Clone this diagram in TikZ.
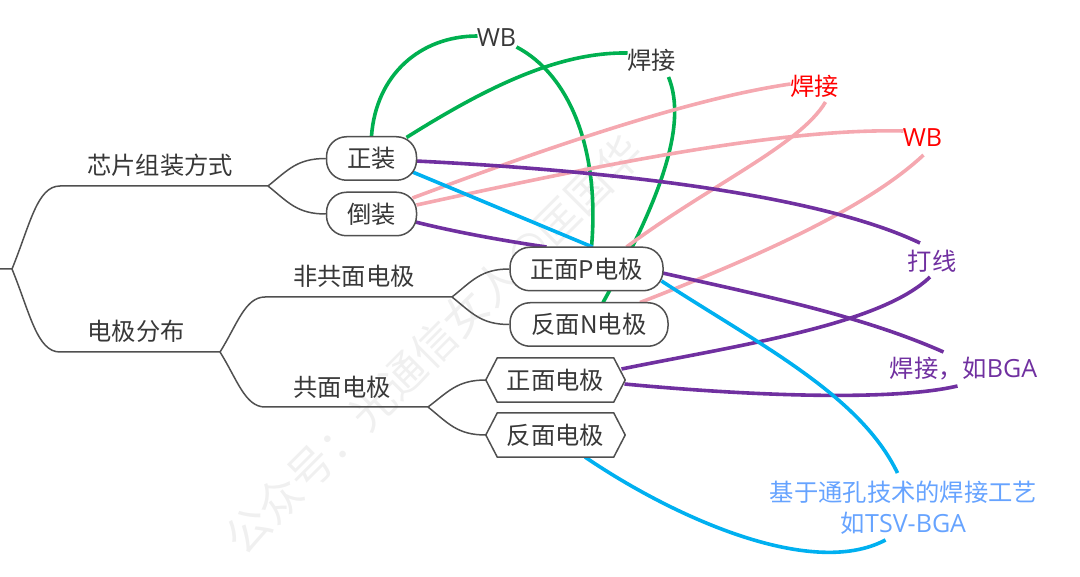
\documentclass[tikz,border=0pt]{standalone}
\usepackage{fontspec}
\setmainfont{Noto Sans CJK SC}
\newfontfamily\lat{Open Sans}[Scale=1.03]
\usetikzlibrary{backgrounds}
\definecolor{txt}{HTML}{383838}
\definecolor{branchc}{HTML}{505050}
\definecolor{gre}{HTML}{00B050}
\definecolor{pnk}{HTML}{F5A8B0}
\definecolor{pur}{HTML}{7030A0}
\definecolor{blu}{HTML}{00B0F0}
\definecolor{lblu}{HTML}{66A3FF}
\tikzset{
  every node/.style={font=\fontsize{24.3}{31}\selectfont, text=txt, inner sep=0pt},
  branch/.style={draw=branchc, line width=1.5pt},
  pillbox/.style={draw=branchc, line width=1.5pt, fill=white, rectangle, rounded corners=20pt, minimum height=43.5pt},
  hexbox/.style={rectangle, minimum height=44pt, minimum width=139pt},
  hexline/.style={draw=branchc, line width=1.5pt, fill=white, line join=round},
  greenrel/.style={draw=gre, line width=3.6pt},
  pinkrel/.style={draw=pnk, line width=3.6pt},
  purplerel/.style={draw=pur, line width=3.6pt},
  bluerel/.style={draw=blu, line width=3.6pt}
}
\begin{document}
\begin{tikzpicture}[x=1pt,y=-1pt]
\useasboundingbox (0,0) rectangle (1080,577);

% topic labels
\node[anchor=center] (t1) at (160,165) {芯片组装方式};
\node[anchor=center] (t2) at (136,331) {电极分布};
\node[anchor=center] (t3) at (354,276) {非共面电极};
\node[anchor=center] (t4) at (342,387) {共面电极};

% boxes
\node[pillbox, minimum width=90pt] (zz) at (371.5,158.5) {正装};
\node[pillbox, minimum width=90pt] (dz) at (371.5,214) {倒装};
\node[pillbox, minimum width=153pt] (pe) at (586.5,269) {正面P电极};
\node[pillbox, minimum width=158pt] (ne) at (589,324.5) {反面N电极};
\node[hexbox] (fe) at (555.5,380) {正面电极};
\node[hexbox] (be) at (555.5,435) {反面电极};

% free labels
\node (wbg) at (496.5,38) {\lat WB};
\node (hjg) at (651.5,60) {焊接};
\node[text=red] (hjr) at (814.5,86) {焊接};
\node[text=red] (wbr) at (922.5,138) {\lat WB};
\node[text=pur] (dx) at (932,261) {打线};
\node[text=pur] (bga) at (963.5,369) {焊接，如{\lat BGA}};
\node[text=lblu, align=center] (tsv) at (903.5,507.5) {基于通孔技术的焊接工艺\\如{\lat TSV-BGA}};

% junctions
\coordinate (r0) at (0,269);
\coordinate (r) at (12,269);
\coordinate (a1) at (60,186);
\coordinate (j1) at (268,186);
\coordinate (a2) at (60,352);
\coordinate (j2) at (220,352);
\coordinate (a3) at (265,297);
\coordinate (j3) at (452,297);
\coordinate (a4) at (265,407);
\coordinate (j4) at (428,407);

\draw[branch, line join=round] (r0) -- (r) .. controls (30,225) and (37,186) .. (a1) -- (j1);
\draw[branch, line join=round] (r) .. controls (30,313) and (37,352) .. (a2) -- (j2);
\draw[branch] (j1) .. controls (288,170) and (297,158.5) .. (zz.west);
\draw[branch] (j1) .. controls (288,202) and (297,214) .. (dz.west);
\draw[branch] (j2) .. controls (237,325) and (245,297) .. (a3) -- (j3);
\draw[branch] (j2) .. controls (237,379) and (245,407) .. (a4) -- (j4);
\draw[branch] (j3) .. controls (472,281) and (481,269) .. (pe.west);
\draw[branch] (j3) .. controls (472,313) and (481,324.5) .. (ne.west);
\draw[branch] (j4) .. controls (448,392) and (457,380) .. (fe.west);
\draw[branch] (j4) .. controls (448,423) and (457,435) .. (be.west);

\begin{scope}[on background layer]
% watermark
\node[text=black!6, rotate=45, font=\fontsize{44}{44}\selectfont] (wm) at (435,346) {公众号：光通信女人@匡国华};

% green
\draw[greenrel] (zz.north) .. controls (376,75) and (420,36) .. ([shift={(-19,-2)}]wbg.center);
\draw[greenrel] ([shift={(20,9)}]wbg.center) .. controls (570,75) and (600,150) .. ([shift={(5,-22)}]pe.center);
\draw[greenrel] ([shift={(35,-21)}]zz.center) .. controls (490,85) and (560,52) .. ([shift={(-24,-7)}]hjg.center);
\draw[greenrel] ([shift={(17,17)}]hjg.center) .. controls (688,125) and (660,200) .. ([shift={(14,-22)}]ne.center);
% pink
\draw[pinkrel] ([shift={(41,-16)}]dz.center) .. controls (520,158) and (680,100) .. ([shift={(-24,-2)}]hjr.center);
\draw[pinkrel] ([shift={(11,16)}]hjr.center) .. controls (800,145) and (710,185) .. ([shift={(40,-22)}]pe.center);
\draw[pinkrel] ([shift={(45,-9)}]dz.center) .. controls (600,165) and (780,128) .. ([shift={(-19,-7)}]wbr.center);
\draw[pinkrel] ([shift={(1,17)}]wbr.center) .. controls (870,205) and (770,252) .. ([shift={(51,-22)}]ne.center);
% purple
\draw[purplerel] ([shift={(44,2.5)}]zz.center) .. controls (600,170) and (815,193) .. ([shift={(-12,-18)}]dx.center);
\draw[purplerel] ([shift={(-2,16)}]dx.center) .. controls (880,325) and (740,345) .. ([shift={(66,-11)}]fe.center);
\draw[purplerel] ([shift={(44,8)}]dz.center) .. controls (455,232) and (505,241) .. ([shift={(-40,-22)}]pe.center);
\draw[purplerel] ([shift={(76,4)}]pe.center) .. controls (760,295) and (860,315) .. ([shift={(-20,-17)}]bga.center);
\draw[purplerel] ([shift={(69,4)}]fe.center) .. controls (740,395) and (890,402) .. ([shift={(-6,17)}]bga.center);
% blue
\draw[bluerel] ([shift={(41,13.5)}]zz.center) -- ([shift={(6,-22)}]pe.center);
\draw[bluerel] ([shift={(75,12)}]pe.center) .. controls (760,345) and (860,395) .. ([shift={(-6,-34.5)}]tsv.center);
\draw[bluerel] ([shift={(29.5,22)}]be.center) .. controls (670,515) and (810,580) .. ([shift={(-18,32.5)}]tsv.center);

% hexagon outlines
\draw[hexline] (fe.west) -- ([xshift=11.5pt]fe.north west) -- ([xshift=-11.5pt]fe.north east) -- (fe.east) -- ([xshift=-11.5pt]fe.south east) -- ([xshift=11.5pt]fe.south west) -- cycle;
\draw[hexline] (be.west) -- ([xshift=11.5pt]be.north west) -- ([xshift=-11.5pt]be.north east) -- (be.east) -- ([xshift=-11.5pt]be.south east) -- ([xshift=11.5pt]be.south west) -- cycle;
\end{scope}
\end{tikzpicture}
\end{document}
